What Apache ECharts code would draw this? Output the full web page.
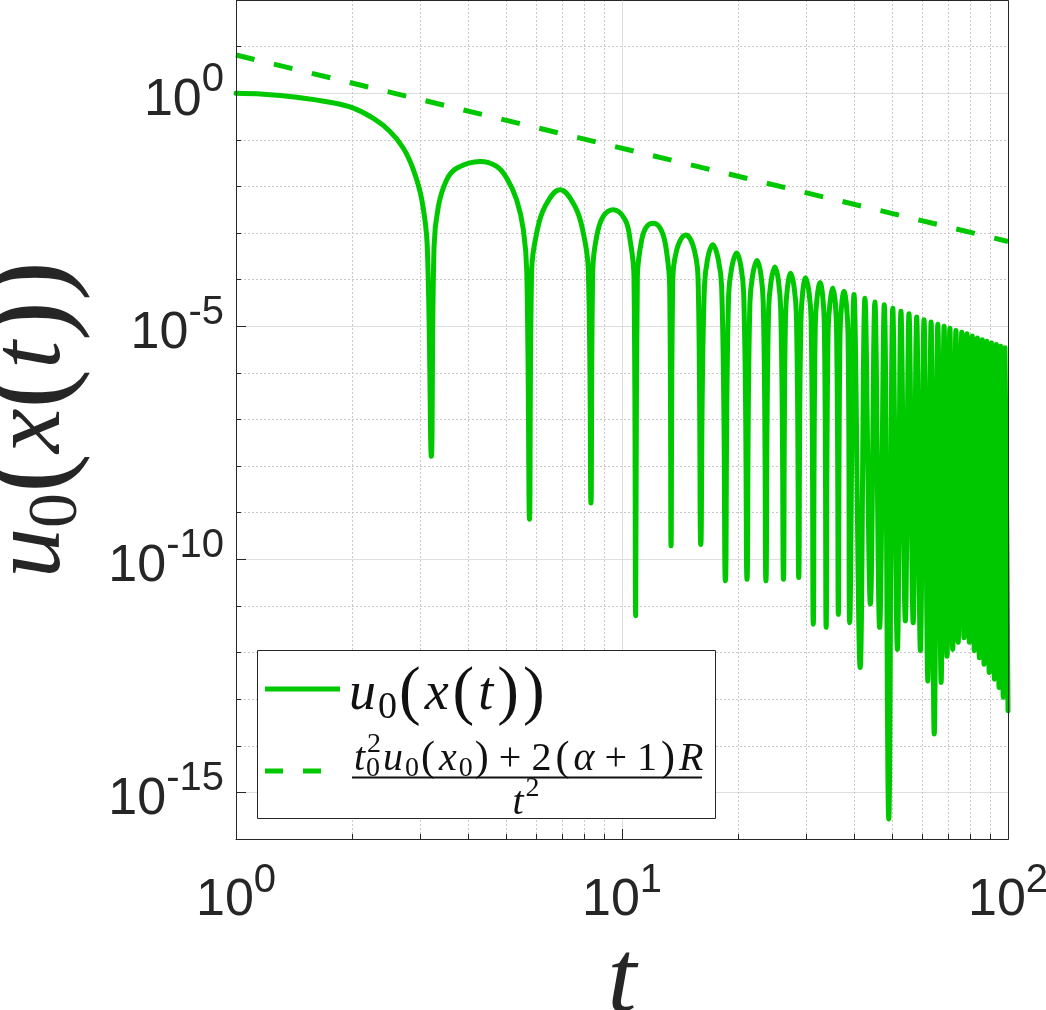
<!DOCTYPE html>
<html>
<head>
<meta charset="utf-8">
<script src="https://cdn.jsdelivr.net/npm/echarts@6/dist/echarts.min.js"></script>
<style>
html, body { margin: 0; padding: 0; background: #fff; }
#chart { width: 1046px; height: 1010px; }
</style>
</head>
<body>
<div id="chart"></div>
<script>
// u0(x(t)) 曲线读数 (t, u)
const tSolid = [
    1.000, 1.177, 1.436, 1.75, 2.0, 2.27, 2.506, 2.714, 2.88, 3.03, 3.13, 3.207,
    3.259, 3.343, 3.514, 3.73, 4.29, 4.735, 5.027, 5.335, 5.553, 5.668, 5.76,
    5.834, 6.01, 6.317, 6.91, 7.556, 7.94, 8.18, 8.31,
    8.40, 8.60, 8.945, 9.50, 10.18, 10.49, 10.74, 10.85,
    10.96, 11.25, 11.59, 12.06, 12.67, 13.06, 13.29, 13.4,
    13.53, 13.86, 14.62, 15.39, 15.76, 16.0,
    16.35, 17.18, 18.12, 18.53,
    18.89, 19.82, 20.67, 21.08,
    21.45, 22.38, 23.22, 23.6,
    23.98, 24.9, 25.77, 26.2,
    26.53, 27.35, 28.30, 28.7,
    29.08, 29.9, 30.90, 31.3,
    31.68, 32.6, 33.43, 33.8,
    34.20, 35.2, 35.96, 36.35,
    36.72, 37.6, 38.50, 38.9,
    39.9, 41.4, 42.6, 44.0, 45.2, 46.5, 47.8, 49.1, 50.3, 51.7, 52.8, 54.2,
    55.4, 56.8, 58.0, 59.3, 60.6, 62.0, 63.2, 64.4, 65.8, 67.1, 68.3, 69.5,
    70.7, 71.9, 73.3, 74.3, 75.9, 76.9, 78.3, 79.4, 80.8, 81.8, 83.3, 84.3,
    85.8, 86.7, 88.2, 89.4, 90.7, 92.2, 93.3, 94.8, 95.7, 97.2, 98.2, 100
];
const uSolid = [
    1.0, 0.955, 0.820, 0.641, 0.490, 0.288, 0.151, 0.0661, 0.0229, 5.13e-3, 5.13e-4, 1.62e-8,
    5.13e-4, 3.72e-3, 0.0138, 0.0245, 0.0342, 0.0269, 0.0151, 5.13e-3, 1.17e-3, 1.38e-4, 7.24e-10,
    1.62e-4, 1.0e-3, 3.72e-3, 8.51e-3, 3.72e-3, 1.0e-3, 1.62e-4, 1.62e-9,
    1.62e-4, 8.51e-4, 2.29e-3, 3.16e-3, 1.95e-3, 7.24e-4, 1.17e-4, 6.17e-12,
    1.17e-4, 7.24e-4, 1.38e-3, 1.62e-3, 1.10e-3, 3.72e-4, 7.24e-5, 1.95e-10,
    7.24e-5, 4.37e-4, 9.12e-4, 4.37e-4, 7.24e-5, 2.09e-10,
    7.08e-5, 5.62e-4, 7.08e-5, 3.47e-11,
    4.68e-5, 3.72e-4, 4.68e-5, 3.72e-11,
    3.24e-5, 2.57e-4, 3.24e-5, 3.47e-11,
    2.34e-5, 1.86e-4, 2.34e-5, 3.72e-11,
    1.74e-5, 1.38e-4, 1.74e-5, 4.07e-11,
    1.38e-5, 1.10e-4, 1.38e-5, 4.07e-12,
    1.10e-5, 8.71e-5, 1.10e-5, 3.47e-12,
    8.32e-6, 6.61e-5, 8.32e-6, 6.61e-12,
    7.08e-6, 5.62e-5, 7.08e-6, 4.37e-12,
    4.79e-5, 4.79e-13, 3.98e-5, 1.10e-11, 3.31e-5, 3.47e-12, 2.88e-5, 2.69e-16, 2.45e-5, 1.17e-12, 2.09e-5, 4.79e-12,
    1.86e-5, 4.37e-12, 1.58e-5, 1.10e-12, 1.38e-5, 2.45e-13, 1.23e-5, 1.78e-14, 1.10e-5, 2.29e-13, 1.00e-5, 8.32e-13,
    9.12e-6, 1.17e-12, 8.13e-6, 1.66e-12, 7.41e-6, 2.09e-12, 6.92e-6, 1.66e-12, 6.17e-6, 1.10e-12, 5.62e-6, 7.76e-13,
    5.13e-6, 5.62e-13, 4.79e-6, 3.72e-13, 4.37e-6, 2.69e-13, 4.07e-6, 1.78e-13, 3.72e-6, 1.10e-13, 3.47e-6, 5.62e-14
];

// 上界 (t0^2 u0(x0) + 2(α+1)R) / t^2
const tBound = [1, 100];
const uBound = [6.6, 6.6e-4];

// 刻度
const xMajor = [1, 10, 100];
const xMinor = [2, 3, 4, 5, 6, 7, 8, 9, 20, 30, 40, 50, 60, 70, 80, 90];
const yMajor = [1e-15, 1e-10, 1e-5, 1];
const yMinor = [1e-16, 1e-15, 1e-14, 1e-13, 1e-12, 1e-11, 1e-10, 1e-9, 1e-8, 1e-7,
    1e-6, 1e-5, 1e-4, 1e-3, 1e-2, 1e-1, 1, 10, 100];

const GREEN = '#00c800';
const INK = '#262626';

// 数学公式用的富文本样式: i 斜体, r 正体, q 括号, o 运算符, d 下标, p 上标
function mathRich(F, color, gap, qScale) {
    const L = Math.round(F * 1.3);
    const pad = [0, gap];
    const font = 'Liberation Serif';
    return {
        i: { fontFamily: font, fontStyle: 'italic', fontSize: F, lineHeight: L, color: color, fill: color, padding: pad },
        r: { fontFamily: font, fontSize: F, lineHeight: L, color: color, fill: color, padding: pad },
        q: { fontFamily: font, fontSize: Math.round(F * qScale), lineHeight: L, color: color, fill: color, padding: pad },
        o: { fontFamily: font, fontSize: F, lineHeight: L, color: color, fill: color, padding: [0, Math.round(F * 0.2)] },
        d: { fontFamily: font, fontSize: Math.round(F * 0.7), lineHeight: Math.round(F * 0.7),
             height: Math.round(F * 0.8), verticalAlign: 'bottom', color: color, fill: color },
        p: { fontFamily: font, fontSize: Math.round(F * 0.7), lineHeight: Math.round(F * 0.7),
             height: Math.round(F * 0.6), verticalAlign: 'top', color: color, fill: color }
    };
}

const tickRich = {
    b: { fontFamily: 'Liberation Sans', fontSize: 52, lineHeight: 66, height: 52, verticalAlign: 'bottom', color: INK },
    s: { fontFamily: 'Liberation Sans', fontSize: 40, lineHeight: 40, height: 40, verticalAlign: 'top', color: INK }
};

function powLabel(v) {
    const e = Math.round(Math.log10(v));
    return '{b|10}{s|' + e + '}';
}

const chart = echarts.init(document.getElementById('chart'));

const option = {
    animation: false,
    backgroundColor: '#fff',
    grid: { left: 236, right: 38, top: 0, bottom: 171, outerBoundsMode: 'none', containLabel: false },
    xAxis: [
        {
            type: 'log', logBase: 10, min: 1, max: 100, position: 'bottom',
            name: '{i|t}', nameLocation: 'middle', nameGap: 61,
            nameTextStyle: { rich: mathRich(104, INK, 0, 1) },
            axisLine: { show: true, lineStyle: { color: INK, width: 1 } },
            axisTick: { show: true, inside: true, length: 10, customValues: xMajor, lineStyle: { color: INK } },
            axisLabel: { customValues: xMajor, margin: 22, formatter: powLabel, rich: tickRich },
            splitLine: { show: true, lineStyle: { color: '#dedede', width: 1 } }
        },
        {
            type: 'log', logBase: 10, min: 1, max: 100, position: 'bottom',
            axisLine: { show: false },
            axisTick: { show: true, inside: true, length: 5, customValues: xMinor, lineStyle: { color: INK } },
            axisLabel: { show: false },
            splitLine: { show: true, lineStyle: { color: '#c9c9c9', width: 1, type: [2, 2] } }
        }
    ],
    yAxis: [
        {
            type: 'log', logBase: 10, min: 1e-16, max: 1e2, position: 'left',
            axisLine: { show: true, lineStyle: { color: INK, width: 1 } },
            axisTick: { show: true, inside: true, length: 5, customValues: yMinor, lineStyle: { color: INK } },
            axisLabel: { show: false },
            splitLine: { show: true, lineStyle: { color: '#c9c9c9', width: 1, type: [2, 2] } }
        },
        {
            type: 'log', logBase: 10, min: 1e-16, max: 1e2, position: 'left',
            name: '{i|u}{d|0}{q|(}{i|x}{q|(}{i|t}{q|)}{q|)}',
            nameLocation: 'middle', nameRotate: 90, nameGap: 138,
            nameTextStyle: { rich: mathRich(100, INK, 0, 1.2) },
            axisLine: { show: false },
            axisTick: { show: true, inside: true, length: 10, customValues: yMajor, lineStyle: { color: INK } },
            axisLabel: { customValues: yMajor, margin: 12, formatter: powLabel, rich: tickRich },
            splitLine: { show: true, lineStyle: { color: '#dedede', width: 1 } }
        }
    ],
    series: [
        {
            type: 'line',
            name: 'u0',
            xAxisIndex: 0, yAxisIndex: 0,
            data: tSolid.map((t, i) => [t, uSolid[i]]),
            showSymbol: false, symbol: 'none',
            smooth: 0.4,
            lineStyle: { color: GREEN, width: 5, cap: 'round', join: 'round' },
            z: 3
        },
        {
            type: 'line',
            name: 'bound',
            xAxisIndex: 0, yAxisIndex: 0,
            data: tBound.map((t, i) => [t, uBound[i]]),
            showSymbol: false, symbol: 'none',
            lineStyle: { color: GREEN, width: 5, type: [19, 20], cap: 'butt' },
            z: 3
        }
    ],
    graphic: [
        // 坐标框
        { type: 'rect', z: 100, shape: { x: 236.5, y: 0.5, width: 772, height: 839 },
          style: { fill: 'none', stroke: INK, lineWidth: 1 } },
        // 图例
        { type: 'rect', z: 100, shape: { x: 257.5, y: 650.5, width: 458, height: 168 },
          style: { fill: '#fff', stroke: INK, lineWidth: 1 } },
        { type: 'line', z: 101, shape: { x1: 265, y1: 689, x2: 340, y2: 689 },
          style: { stroke: GREEN, lineWidth: 5 } },
        { type: 'line', z: 101, shape: { x1: 265, y1: 771, x2: 323, y2: 771 },
          style: { stroke: GREEN, lineWidth: 5, lineDash: [18, 20] } },
        { type: 'text', z: 101, x: 347, y: 695,
          style: { text: '{i|u}{d|0}{q|(}{i|x}{q|(}{i|t}{q|)}{q|)}', rich: mathRich(54, '#111', 2, 1.2),
                   align: 'left', verticalAlign: 'middle' } },
        { type: 'text', z: 101, x: 352, y: 759,
          style: { text: '{i|t}{p|2}{i|u}{d|0}{q|(}{i|x}{d|0}{q|)}{o|+}{r|2}{q|(}{i|α}{o|+}{r|1}{q|)}{i|R}',
                   rich: mathRich(40, '#111', 2, 1.05), align: 'left', verticalAlign: 'middle' } },
        { type: 'text', z: 101, x: 366, y: 769,
          style: { text: '0', fontFamily: 'Liberation Serif', fontSize: 28, fill: '#111',
                   align: 'left', verticalAlign: 'middle' } },
        { type: 'line', z: 101, shape: { x1: 352, y1: 777.5, x2: 702, y2: 777.5 },
          style: { stroke: '#111', lineWidth: 2 } },
        { type: 'text', z: 101, x: 525, y: 803,
          style: { text: '{i|t}{p|2}', rich: mathRich(40, '#111', 2, 1), align: 'center', verticalAlign: 'middle' } }
    ]
};

chart.setOption(option);
</script>
</body>
</html>
